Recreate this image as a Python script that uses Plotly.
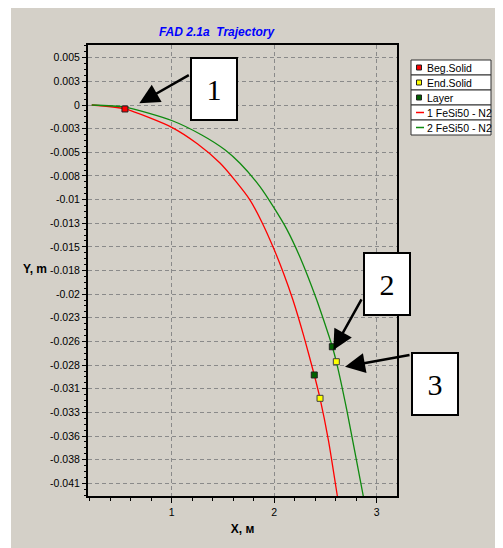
import plotly.graph_objects as go

# ---------------- data ----------------
red_x = [0.220, 0.544, 1.000, 1.250, 1.471, 1.620, 1.764, 1.880, 1.988, 2.090,
         2.183, 2.290, 2.391, 2.447, 2.530, 2.616, 2.652]
red_y = [0.0, -0.00043, -0.00242, -0.00420, -0.00629, -0.00820, -0.01030, -0.01270,
         -0.01536, -0.01820, -0.02113, -0.02510, -0.02926, -0.03179, -0.03640,
         -0.04238, -0.04500]

green_x = [0.220, 0.544, 1.000, 1.293, 1.522, 1.666, 1.861, 1.991, 2.122, 2.252,
           2.415, 2.479, 2.567, 2.606, 2.707, 2.869, 2.921]
green_y = [0.0, -0.00022, -0.00168, -0.00325, -0.00488, -0.00632, -0.00885, -0.01102,
           -0.01345, -0.01650, -0.02113, -0.02320, -0.02620, -0.02782, -0.03300,
           -0.04238, -0.04550]

beg_x = [0.544]
beg_y = [-0.00043]
end_x = [2.447, 2.606]
end_y = [-0.03179, -0.02782]
layer_x = [2.391, 2.567]
layer_y = [-0.02926, -0.02620]

y_tickvals = [0.005125, 0.0025625, 0.0, -0.0025625, -0.005125, -0.0076875, -0.01025,
              -0.0128125, -0.015375, -0.0179375, -0.0205, -0.0230625, -0.025625,
              -0.0281875, -0.03075, -0.0333125, -0.035875, -0.0384375, -0.041]
y_ticktext = ["0.005", "0.003", "0", "-0.003", "-0.005", "-0.008", "-0.01", "-0.013",
              "-0.015", "-0.018", "-0.02", "-0.023", "-0.026", "-0.028", "-0.031",
              "-0.033", "-0.036", "-0.038", "-0.041"]
x_tickvals = [1, 2, 3]
x_ticktext = ["1", "2", "3"]

legend_names = ["Beg.Solid", "End.Solid", "Layer", "1 FeSi50 - N2", "2 FeSi50 - N2"]
callout_labels = ["1", "2", "3"]
callout_tips_x = [0.684, 2.577, 2.691]
callout_tips_y = [0.000184, -0.02655, -0.02836]

# ---------------- styling / geometry ----------------
OFF = 8                      # page body margin
W, H = 503 - OFF, 548 - OFF  # figure size so that page fits the window
L, R, T, B = 88, 397, 45, 496  # plot area in page pixels
BG = "#d4d0c8"
RED = "#ff0000"
GREEN = "#0f8a0f"
YELLOW = "#ffff00"
LAYER = "#006000"
FONT = "Liberation Sans, Arial, sans-serif"


def px(p):
    return (p - L) / (R - L)


def py(p):
    return (B - p) / (B - T)


fig = go.Figure()
fig.add_trace(go.Scatter(x=red_x, y=red_y, mode="lines", name=legend_names[3],
                         line=dict(color=RED, width=1.3, shape="spline", smoothing=0.6),
                         showlegend=False))
fig.add_trace(go.Scatter(x=green_x, y=green_y, mode="lines", name=legend_names[4],
                         line=dict(color=GREEN, width=1.3, shape="spline", smoothing=0.6),
                         showlegend=False))
fig.add_trace(go.Scatter(x=beg_x, y=beg_y, mode="markers", name=legend_names[0],
                         marker=dict(symbol="square", size=6, color=RED,
                                     line=dict(color="#202020", width=1)),
                         showlegend=False))
fig.add_trace(go.Scatter(x=layer_x, y=layer_y, mode="markers", name=legend_names[2],
                         marker=dict(symbol="square", size=6, color=LAYER,
                                     line=dict(color="#202020", width=1)),
                         showlegend=False))
fig.add_trace(go.Scatter(x=end_x, y=end_y, mode="markers", name=legend_names[1],
                         marker=dict(symbol="square", size=6, color=YELLOW,
                                     line=dict(color="#404040", width=1)),
                         showlegend=False))

shapes = []
annotations = []

# white strip at the left of the window
shapes.append(dict(type="rect", xref="paper", yref="paper", x0=px(0), x1=px(11),
                   y0=py(0), y1=py(560), fillcolor="white", line=dict(width=0), layer="above"))

# custom legend
row_h = 15
legend_kinds = [("marker", RED), ("marker", YELLOW), ("marker", LAYER),
                ("line", RED), ("line", GREEN)]
for i, (name, (kind, col)) in enumerate(zip(legend_names, legend_kinds)):
    top = 60 + row_h * i
    shapes.append(dict(type="rect", xref="paper", yref="paper", x0=px(411), x1=px(491),
                       y0=py(top + row_h), y1=py(top), fillcolor="white",
                       line=dict(color="#303030", width=1), layer="above"))
    cy = top + row_h / 2
    if kind == "marker":
        shapes.append(dict(type="rect", xref="paper", yref="paper", x0=px(416.5),
                           x1=px(421.5), y0=py(cy + 2.5), y1=py(cy - 2.5), fillcolor=col,
                           line=dict(color="#202020", width=1), layer="above"))
    else:
        shapes.append(dict(type="line", xref="paper", yref="paper", x0=px(416),
                           x1=px(424), y0=py(cy), y1=py(cy),
                           line=dict(color=col, width=1.5), layer="above"))
    annotations.append(dict(text=name, xref="paper", yref="paper", x=px(425), y=py(cy),
                            xanchor="left", yanchor="middle", showarrow=False,
                            font=dict(family=FONT, size=10.5, color="black")))

# callout boxes
box_centers = [(214, 89.5), (386.5, 284), (434.5, 383.5)]
for lab, (cx, cy) in zip(callout_labels, box_centers):
    annotations.append(dict(text=lab, xref="paper", yref="paper", x=px(cx), y=py(cy),
                            xanchor="center", yanchor="middle", showarrow=False,
                            width=44, height=60, borderpad=0, borderwidth=2,
                            bordercolor="black", bgcolor="white",
                            font=dict(family="Liberation Serif, Times New Roman, serif",
                                      size=30, color="black")))

# arrows (tail offsets in pixels)
arrow_offsets = [(51, -29), (29, -52), (66, -12)]
for tx, ty, (ax, ay) in zip(callout_tips_x, callout_tips_y, arrow_offsets):
    annotations.append(dict(text="", x=tx, y=ty, xref="x", yref="y", ax=ax, ay=ay,
                            showarrow=True, arrowhead=2, arrowsize=1.6, arrowwidth=2.5,
                            arrowcolor="black"))

# Y axis title (horizontal)
annotations.append(dict(text="<b>Y, m</b>", xref="paper", yref="paper", x=px(49), y=py(269),
                        xanchor="right", yanchor="middle", showarrow=False,
                        font=dict(family=FONT, size=12, color="black")))

fig.update_layout(
    width=W, height=H,
    margin=dict(l=L - OFF, r=W - (R - OFF), t=T - OFF, b=H - (B - OFF), pad=0),
    paper_bgcolor=BG, plot_bgcolor=BG,
    showlegend=False,
    title=dict(text="<b><i>FAD 2.1a\u00a0\u00a0Trajectory</i></b>",
               x=(216.5 - OFF) / W, y=1 - (32 - OFF) / H,
               xref="container", yref="container", xanchor="center", yanchor="middle",
               font=dict(family=FONT, size=12, color="#0000ff")),
    shapes=shapes,
    annotations=annotations,
)

fig.update_xaxes(
    range=[0.1834, 3.198], tickmode="array", tickvals=x_tickvals, ticktext=x_ticktext,
    ticks="outside", ticklen=5, tickcolor="black", tickwidth=1,
    showline=True, linecolor="black", linewidth=2, mirror=True,
    showgrid=True, gridcolor="#8a8a8a", griddash="4px,3px", gridwidth=1,
    zeroline=False,
    minor=dict(dtick=0.2, tick0=0, ticks="outside", ticklen=3, tickcolor="black",
               showgrid=False),
    tickfont=dict(family=FONT, size=10.5, color="black"),
    title=dict(text="<b>X, м</b>", font=dict(family=FONT, size=12, color="black"),
               standoff=8),
)
fig.update_yaxes(
    range=[-0.042376, 0.006503], tickmode="array", tickvals=y_tickvals,
    ticktext=y_ticktext,
    ticks="outside", ticklen=4, tickcolor="black", tickwidth=1,
    showline=True, linecolor="black", linewidth=2, mirror=True,
    showgrid=True, gridcolor="#8a8a8a", griddash="4px,3px", gridwidth=1,
    zeroline=False,
    minor=dict(dtick=0.000640625, tick0=0, ticks="outside", ticklen=2, tickcolor="black",
               showgrid=False),
    tickfont=dict(family=FONT, size=10.5, color="black"),
)

fig.write_html("out.html")
